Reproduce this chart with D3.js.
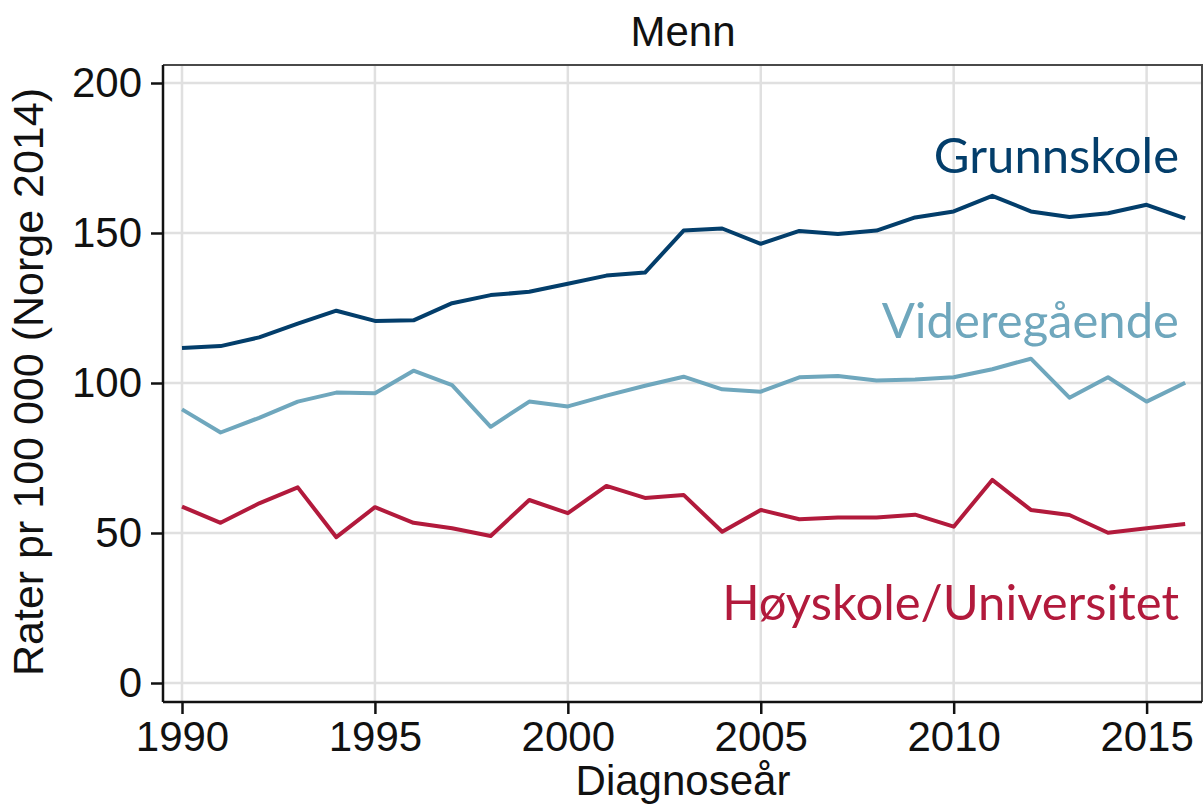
<!DOCTYPE html>
<html>
<head>
<meta charset="utf-8">
<script src="https://cdn.jsdelivr.net/npm/d3@7"></script>
<style>
  body { margin: 0; background: #fff; }
  text { font-family: "Liberation Sans", Arial, sans-serif; }
  .lbl { font-family: Lato, "Open Sans", sans-serif; }
</style>
</head>
<body>
<svg id="viz" width="1203" height="806"></svg>
<script>
// data
const years = d3.range(1990, 2017)
const grunnskole = [111.7, 112.3, 115.2, 119.8, 124.1, 120.7, 120.9, 126.6, 129.3, 130.4, 133.1, 135.8, 136.8,
                    150.8, 151.5, 146.4, 150.7, 149.7, 150.8, 155.2, 157.2, 162.4, 157.2, 155.3, 156.6, 159.4, 154.9]
const videregaende = [91.2, 83.5, 88.4, 93.8, 96.8, 96.6, 104.1, 99.3, 85.4, 93.8, 92.2, 95.8, 99.1,
                      102.1, 97.9, 97.1, 101.9, 102.3, 100.8, 101.2, 101.9, 104.6, 108.1, 95.1, 101.9, 93.8, 100.1]
const hoyskole = [58.8, 53.4, 59.9, 65.2, 48.6, 58.6, 53.4, 51.6, 49.0, 61.0, 56.6, 65.7, 61.7,
                  62.7, 50.4, 57.7, 54.6, 55.2, 55.2, 56.1, 52.1, 67.7, 57.7, 56.0, 50.1, 51.6, 53.0]
const seriesNames = ["Grunnskole", "Videregående", "Høyskole/Universitet"]
const seriesColors = ["#033e6b", "#6fa7bd", "#b21a3c"]
const yTicks = [0, 50, 100, 150, 200]
const xTicks = [1990, 1995, 2000, 2005, 2010, 2015]

const svg = d3.select("svg#viz")
const frame = {left: 163, right: 1202, top: 65, bottom: 702}

const x = d3.scaleLinear().domain([1990, 2015]).range([182, 1146.6])
const y = d3.scaleLinear().domain([0, 200]).range([683, 83])

// gridlines
svg.append("g").selectAll("line.vg").data(xTicks)
    .join("line").attr("class", "vg")
    .attr("x1", d => x(d)).attr("x2", d => x(d))
    .attr("y1", frame.top).attr("y2", frame.bottom)
    .attr("stroke", "#e0e0e0").attr("stroke-width", 2.5)
svg.append("g").selectAll("line.hg").data(yTicks)
    .join("line").attr("class", "hg")
    .attr("x1", frame.left).attr("x2", frame.right)
    .attr("y1", d => y(d)).attr("y2", d => y(d))
    .attr("stroke", "#e0e0e0").attr("stroke-width", 2.5)

// top + right frame
svg.append("path")
    .attr("d", `M${frame.left},${frame.top}H${frame.right}V${frame.bottom}`)
    .attr("fill", "none").attr("stroke", "#4a4a4a").attr("stroke-width", 2)

// axes
const yAxis = d3.axisLeft(y).tickValues(yTicks).tickSize(12).tickPadding(9).tickSizeOuter(0)
const xAxis = d3.axisBottom(x).tickValues(xTicks).tickFormat(d3.format("d")).tickSize(12).tickPadding(7).tickSizeOuter(0)

const ya = svg.append("g").attr("transform", `translate(${frame.left},0)`).call(yAxis)
ya.select(".domain").attr("d", `M0,${frame.top}V${frame.bottom}`)
const xa = svg.append("g").attr("transform", `translate(0,${frame.bottom})`).call(xAxis)
xa.select(".domain").attr("d", `M${frame.left},0H${frame.right}`)

svg.selectAll(".tick line").attr("stroke", "#111").attr("stroke-width", 2.5)
svg.selectAll(".domain").attr("stroke", "#111").attr("stroke-width", 2.5)
svg.selectAll(".tick text").attr("font-size", 42).attr("fill", "#111")
    .attr("font-family", "Liberation Sans, Arial, sans-serif")

// lines
const line = d3.line().x((d, i) => x(years[i])).y(d => y(d))
const allSeries = [grunnskole, videregaende, hoyskole]
svg.append("g").selectAll("path.series").data(allSeries)
    .join("path").attr("class", "series")
    .attr("d", line)
    .attr("fill", "none")
    .attr("stroke", (d, i) => seriesColors[i])
    .attr("stroke-width", 4)
    .attr("stroke-linejoin", "round")

// series labels
const labelY = [173, 338, 620]
svg.append("g").selectAll("text.lbl").data(seriesNames)
    .join("text").attr("class", "lbl")
    .attr("x", 1179).attr("y", (d, i) => labelY[i])
    .attr("text-anchor", "end")
    .attr("font-size", 49)
    .attr("fill", (d, i) => seriesColors[i])
    .text(d => d)

// titles
svg.append("text").attr("x", 683).attr("y", 46).attr("text-anchor", "middle")
    .attr("font-size", 42).attr("fill", "#111").text("Menn")
svg.append("text").attr("x", 683).attr("y", 795).attr("text-anchor", "middle")
    .attr("font-size", 42).attr("fill", "#111").text("Diagnoseår")
svg.append("text").attr("transform", "translate(43,382) rotate(-90)").attr("text-anchor", "middle")
    .attr("font-size", 43).attr("fill", "#111").text("Rater pr 100 000 (Norge 2014)")
</script>
</body>
</html>
